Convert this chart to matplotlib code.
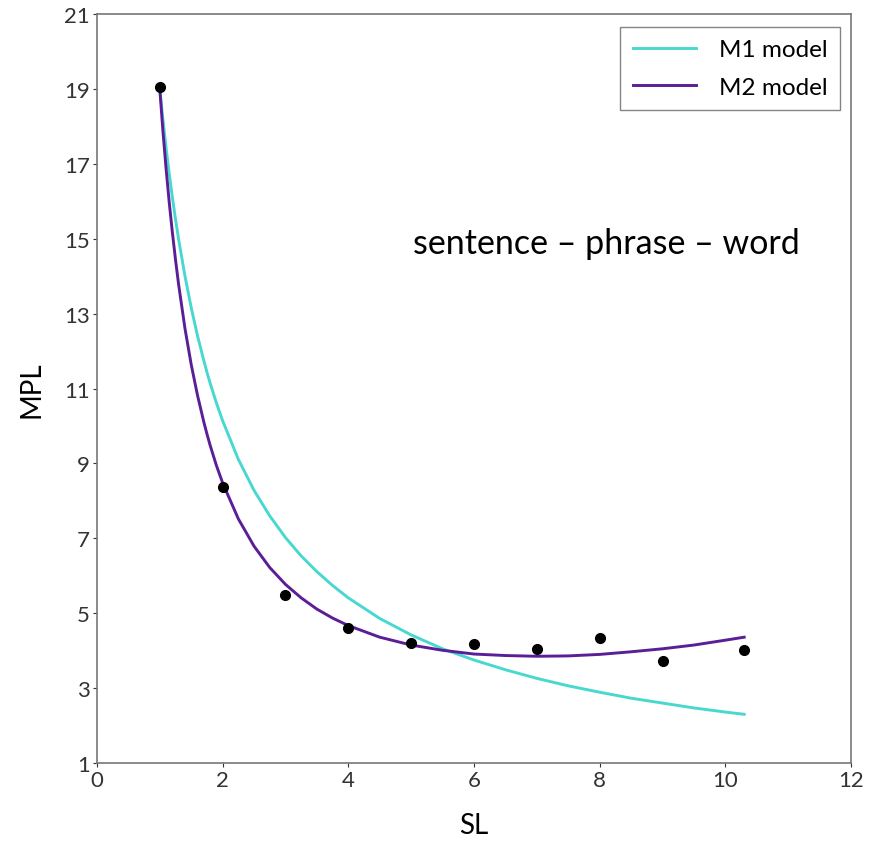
import numpy as np
import matplotlib.pyplot as plt

plt.rcParams['font.family'] = ['Lato', 'DejaVu Sans']

# observed points
sl = [1, 2, 3, 4, 5, 6, 7, 8, 9, 10.3]
mpl_obs = [19.05, 8.38, 5.49, 4.6, 4.2, 4.18, 4.05, 4.35, 3.72, 4.02]

# model curves
x_curve = [1, 1.05, 1.1, 1.15, 1.2, 1.25, 1.3, 1.4, 1.5, 1.6, 1.7, 1.75, 1.8,
           1.9, 2, 2.25, 2.5, 2.75, 3, 3.25, 3.5, 3.75, 4, 4.5, 5, 5.5, 6,
           6.5, 7, 7.5, 8, 8.5, 9, 9.5, 10, 10.3]
m1_curve = [19.0, 18.18, 17.43, 16.74, 16.11, 15.52, 14.98, 14.01, 13.16,
            12.41, 11.75, 11.44, 11.15, 10.62, 10.14, 9.11, 8.28, 7.60, 7.02,
            6.53, 6.11, 5.74, 5.41, 4.86, 4.42, 4.05, 3.75, 3.49, 3.26, 3.06,
            2.89, 2.73, 2.60, 2.47, 2.36, 2.30]
m2_curve = [19.0, 17.87, 16.87, 15.97, 15.17, 14.44, 13.77, 12.61, 11.64,
            10.82, 10.11, 9.79, 9.49, 8.95, 8.48, 7.52, 6.79, 6.22, 5.77,
            5.41, 5.11, 4.87, 4.67, 4.36, 4.15, 4.01, 3.91, 3.87, 3.85, 3.86,
            3.90, 3.97, 4.05, 4.15, 4.28, 4.36]

fig = plt.figure(figsize=(8.69, 8.45), dpi=100)
ax = fig.add_axes([0.1116, 0.0959, 0.8677, 0.886])

ax.plot(x_curve, m1_curve, color='#48D8D0', lw=2.1, label='M1 model')
ax.plot(x_curve, m2_curve, color='#5A1E96', lw=2.1, label='M2 model')
ax.plot(sl, mpl_obs, 'o', color='black', ms=7, zorder=3)

ax.set_xlim(0, 12)
ax.set_ylim(1, 21)
ax.set_xticks(range(0, 13, 2))
ax.set_yticks(range(1, 22, 2))
ax.tick_params(labelsize=16, colors='#333333', length=3, width=0.8, pad=2)
for s in ax.spines.values():
    s.set_color('#777777')
    s.set_linewidth(1.2)

ax.set_xlabel('SL', fontsize=20, labelpad=16)
ax.set_ylabel('MPL', fontsize=20, labelpad=14)

ax.text(8.1, 14.9, 'sentence \u2013 phrase \u2013 word', fontsize=24.5,
        ha='center', va='center')

leg = ax.legend(loc='upper right', fontsize=17.5, fancybox=False,
                handlelength=2.6, borderpad=0.5, labelspacing=0.68,
                handletextpad=0.95, borderaxespad=0,
                bbox_to_anchor=(0.985, 0.983))
leg.get_frame().set_edgecolor('#666666')
leg.get_frame().set_linewidth(1.0)

fig.savefig('out.png', dpi=100)
